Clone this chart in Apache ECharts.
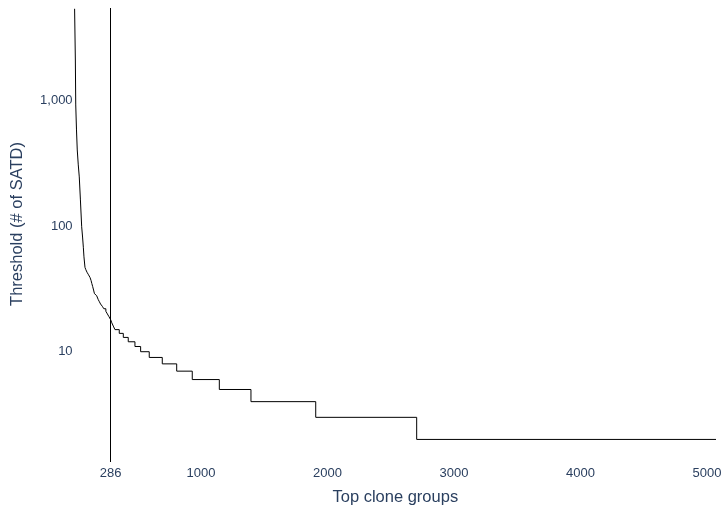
<!DOCTYPE html>
<html>
<head>
<meta charset="utf-8">
<script src="https://cdn.jsdelivr.net/npm/echarts@6/dist/echarts.min.js"></script>
<style>
html,body{margin:0;padding:0;background:#fff;}
#chart{width:722px;height:510px;}
</style>
</head>
<body>
<div id="chart"></div>
<script>
// Rank (x) at which each threshold level starts; the last entry closes the final step.
const rankStart = [1, 7, 10, 16, 22, 30, 38, 47, 57, 64, 70, 75, 83, 87, 90, 94, 99, 105, 111, 117, 123, 128, 131, 134, 137, 140, 144, 148, 151, 154, 158, 162, 175, 188, 197, 206, 220, 232, 248, 260, 273, 286, 295, 307, 320, 354, 386, 425, 478, 523, 591, 694, 808, 931, 1145, 1395, 1907, 2705, 5071];
const threshold = [5400, 2110, 925, 585, 405, 308, 247, 162, 99, 82, 68, 57, 47, 46, 45, 44, 43, 42, 41, 40, 39, 38, 37, 36, 35, 34, 33, 32, 31, 30, 29, 28, 27, 26, 25, 24, 23, 22, 21, 20, 19, 18, 17, 16, 15, 14, 13, 12, 11, 10, 9, 8, 7, 6, 5, 4, 3, 2, 2];
const cutoffRank = 286;
const xTickValues = [286, 1000, 2000, 3000, 4000, 5000];
const yTickValues = [10, 100, 1000];
const yTickLabels = ['10', '100', '1,000'];
const xTitle = 'Top clone groups';
const yTitle = 'Threshold (# of SATD)';

const seriesData = rankStart.map((r, i) => [r, threshold[i]]);
const textColor = '#2a3f5f';
const fontFamily = '"Liberation Sans", Arial, sans-serif';

const chart = echarts.init(document.getElementById('chart'));
chart.setOption({
  animation: false,
  backgroundColor: '#fff',
  grid: {left: 74.6, right: 6, top: 8, bottom: 48, containLabel: false, outerBoundsMode: 'none'},
  xAxis: {
    type: 'value',
    min: 1,
    max: 5071,
    axisLine: {show: false},
    axisTick: {show: false},
    splitLine: {show: false},
    axisLabel: {
      customValues: xTickValues,
      color: textColor,
      fontFamily: fontFamily,
      fontSize: 13,
      margin: 5,
      formatter: function (v) { return String(Math.round(v)); }
    },
    name: xTitle,
    nameLocation: 'middle',
    nameGap: 27,
    nameTextStyle: {color: textColor, fontFamily: fontFamily, fontSize: 16.5}
  },
  yAxis: {
    type: 'log',
    logBase: 10,
    min: 1.322,
    max: 5478,
    axisLine: {show: false},
    axisTick: {show: false},
    splitLine: {show: false},
    axisLabel: {
      color: textColor,
      fontFamily: fontFamily,
      fontSize: 13,
      margin: 2,
      showMinLabel: false,
      showMaxLabel: false,
      formatter: function (v) {
        for (let i = 0; i < yTickValues.length; i++) {
          if (Math.abs(v - yTickValues[i]) / yTickValues[i] < 1e-6) return yTickLabels[i];
        }
        return '';
      }
    }
  },
  graphic: [{
    type: 'text',
    x: 17.5,
    y: 224,
    rotation: Math.PI / 2,
    style: {
      text: yTitle,
      fill: textColor,
      font: '16.5px "Liberation Sans", Arial, sans-serif',
      align: 'center',
      verticalAlign: 'middle'
    }
  }],
  series: [{
    type: 'line',
    data: seriesData,
    step: 'end',
    showSymbol: false,
    symbol: 'none',
    lineStyle: {color: '#000', width: 1},
    silent: true,
    markLine: {
      silent: true,
      symbol: ['none', 'none'],
      label: {show: false},
      lineStyle: {color: '#000', width: 1, type: 'solid'},
      data: [{xAxis: cutoffRank}]
    }
  }]
});
</script>
</body>
</html>
